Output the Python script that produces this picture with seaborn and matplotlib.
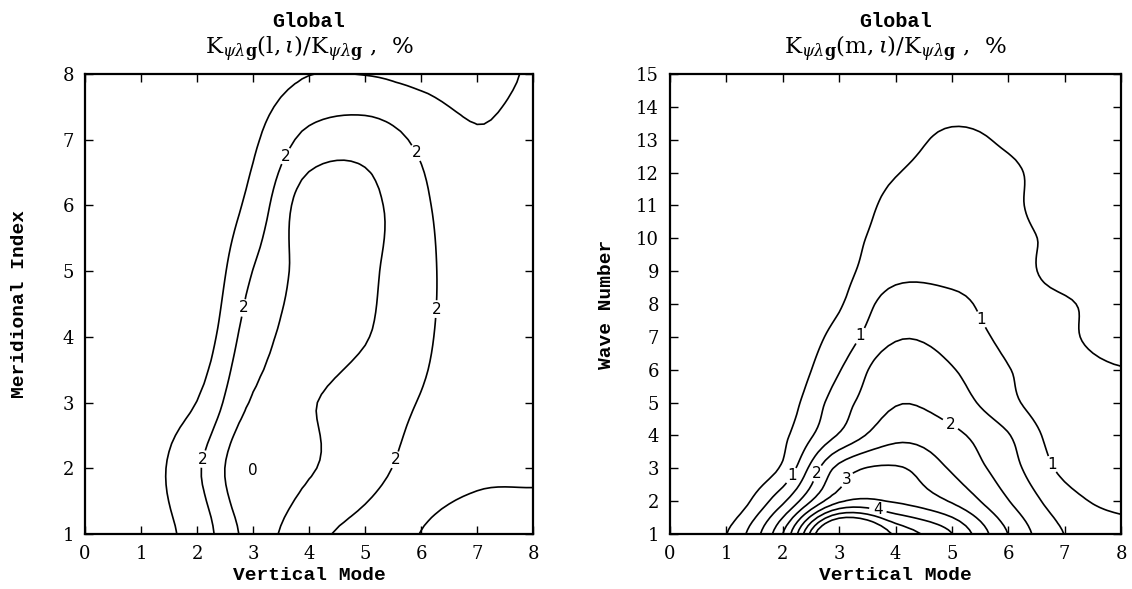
import numpy as np
import matplotlib
matplotlib.use("Agg")
import matplotlib.pyplot as plt
import seaborn as sns

# ---- axes coordinates -------------------------------------------------------
vertical_mode = [0, 1, 2, 3, 4, 5, 6, 7, 8]
meridional_index = [1, 2, 3, 4, 5, 6, 7, 8]
wave_number = list(range(1, 16))

# ---- K(l, iota)/K, %  (rows: meridional index 1..8, cols: vertical mode 0..8)
mer_1 = [0.10, 0.55, 1.40, 3.30, 2.25, 1.70, 0.98, 0.60, 0.60]
mer_2 = [0.10, 0.50, 1.85, 3.90, 3.10, 2.40, 1.60, 1.20, 1.15]
mer_3 = [0.05, 0.40, 1.02, 3.10, 3.05, 2.55, 1.95, 1.40, 1.30]
mer_4 = [0.03, 0.15, 0.33, 2.56, 3.29, 3.05, 2.20, 1.40, 1.30]
mer_5 = [0.02, 0.02, 0.05, 2.02, 3.33, 3.175, 2.30, 1.30, 1.25]
mer_6 = [0.00, 0.02, 0.10, 1.33, 3.55, 3.30, 2.20, 1.20, 1.15]
mer_7 = [0.00, 0.00, 0.00, 0.85, 2.30, 2.60, 1.80, 1.10, 1.40]
mer_8 = [0.00, 0.00, 0.00, 0.50, 0.98, 0.98, 0.80, 0.60, 1.10]

# ---- K(m, iota)/K, %  (rows: wave number 1..15, cols: vertical mode 0..8)
wn_1 = [0.02, 0.49, 2.50, 6.35, 4.90, 4.02, 2.49, 1.49, 1.20]
wn_2 = [0.02, 0.06, 1.40, 3.42, 3.45, 2.95, 2.02, 1.20, 0.85]
wn_3 = [0.02, 0.02, 0.585, 2.66, 3.05, 2.44, 1.71, 0.875, 0.60]
wn_4 = [0.02, 0.02, 0.40, 1.55, 2.35, 2.12, 1.53, 0.70, 0.60]
wn_5 = [0.02, 0.02, 0.235, 1.255, 1.97, 1.75, 1.13, 0.61, 0.55]
wn_6 = [0.02, 0.02, 0.11, 0.97, 1.85, 1.53, 1.02, 0.70, 0.52]
wn_7 = [0.02, 0.02, 0.05, 0.69, 1.45, 1.30, 0.87, 0.60, 0.25]
wn_8 = [0.02, 0.02, 0.02, 0.45, 1.24, 1.15, 0.72, 0.55, 0.30]
wn_9 = [0.02, 0.02, 0.02, 0.35, 0.84, 0.82, 0.66, 0.35, 0.20]
wn_10 = [0.02, 0.02, 0.02, 0.30, 0.70, 0.75, 0.60, 0.40, 0.20]
wn_11 = [0.02, 0.02, 0.02, 0.20, 0.62, 0.70, 0.57, 0.30, 0.15]
wn_12 = [0.02, 0.02, 0.02, 0.15, 0.48, 0.64, 0.56, 0.30, 0.15]
wn_13 = [0.02, 0.02, 0.02, 0.10, 0.35, 0.56, 0.45, 0.25, 0.10]
wn_14 = [0.02, 0.02, 0.02, 0.10, 0.30, 0.40, 0.35, 0.20, 0.10]
wn_15 = [0.02, 0.02, 0.02, 0.05, 0.25, 0.30, 0.25, 0.15, 0.10]

left_levels = [1, 2, 3]
left_label_levels = [2]
right_levels = [0.5, 1.0, 1.5, 2.0, 2.5, 3.0, 3.5, 4.0, 4.5, 5.0]
right_label_levels = [1, 2, 3, 4]

# label anchor points along the contours (vertical mode, index)
left_label_pts = [(3.56, 6.76), (5.83, 6.76), (2.83, 4.44), (6.32, 4.42),
                  (2.11, 2.14), (5.50, 2.14)]
right_label_pts = [(2.13, 2.80), (3.41, 7.00), (5.57, 7.57), (6.79, 3.14),
                   (2.67, 2.80), (4.96, 4.30), (3.24, 2.50), (3.68, 1.67)]

sns.set_theme(style="ticks")
plt.rcParams["font.family"] = ["DejaVu Serif"]
plt.rcParams["mathtext.fontset"] = "dejavuserif"
plt.rcParams["text.color"] = "black"
plt.rcParams["axes.labelcolor"] = "black"
plt.rcParams["xtick.color"] = "black"
plt.rcParams["ytick.color"] = "black"

grid_left = np.array([mer_1, mer_2, mer_3, mer_4, mer_5, mer_6, mer_7, mer_8])
grid_right = np.array([wn_1, wn_2, wn_3, wn_4, wn_5, wn_6, wn_7, wn_8, wn_9,
                       wn_10, wn_11, wn_12, wn_13, wn_14, wn_15])


def _catmull_rom(z, axis, factor):
    """Cubic (Catmull-Rom) resampling along one axis; passes through nodes."""
    z = np.moveaxis(np.asarray(z, float), axis, 0)
    n = z.shape[0]
    t = np.linspace(0, n - 1, (n - 1) * factor + 1)
    i = np.clip(np.floor(t).astype(int), 0, n - 2)
    f = (t - i)[:, None]
    p0 = z[np.clip(i - 1, 0, n - 1)]
    p1 = z[i]
    p2 = z[i + 1]
    p3 = z[np.clip(i + 2, 0, n - 1)]
    out = 0.5 * (2 * p1 + (-p0 + p2) * f
                 + (2 * p0 - 5 * p1 + 4 * p2 - p3) * f ** 2
                 + (-p0 + 3 * p1 - 3 * p2 + p3) * f ** 3)
    return np.moveaxis(out, 0, axis)


def smooth_field(x, y, z, factor=8):
    zs = _catmull_rom(_catmull_rom(z, 1, factor), 0, factor)
    xs = np.linspace(x[0], x[-1], (len(x) - 1) * factor + 1)
    ys = np.linspace(y[0], y[-1], (len(y) - 1) * factor + 1)
    return xs, ys, zs


fig = plt.figure(figsize=(11.32, 5.89), dpi=100)
ax_l = fig.add_axes([0.0751, 0.0934, 0.3958, 0.781])
ax_r = fig.add_axes([0.5919, 0.0934, 0.3984, 0.781])

label_font = dict(family="Liberation Mono", size=14, weight="bold",
                  color="black")
title_font = dict(family="Liberation Mono", size=14.5, weight="bold",
                  color="black")


def draw_contours(ax, x, y, z, levels, label_levels, label_pts):
    xs, ys, zs = smooth_field(x, y, z)
    plain = [lv for lv in levels if lv not in label_levels]
    if plain:
        ax.contour(xs, ys, zs, levels=plain, colors="black", linewidths=1.2)
    cs = ax.contour(xs, ys, zs, levels=label_levels, colors="black",
                    linewidths=1.2)
    labels = ax.clabel(cs, manual=label_pts, inline=True,
                       fmt=lambda v: f"{v:g}", fontsize=11,
                       inline_spacing=4)
    for t in labels:
        t.set_rotation(0)
        t.set_family("DejaVu Sans")
        t.set_color("black")


def style_axes(ax, ymax, ylabel, label_x):
    ax.set_xlim(0, 8)
    ax.set_ylim(1, ymax)
    ax.set_xticks(vertical_mode)
    ax.set_yticks(range(1, ymax + 1))
    ax.tick_params(direction="in", top=True, right=True, length=6, width=1,
                   labelsize=13, pad=8, colors="black")
    for sp in ax.spines.values():
        sp.set_linewidth(1.6)
        sp.set_color("black")
    ax.set_xlabel("Vertical Mode", fontdict=label_font, labelpad=3)
    ax.set_ylabel(ylabel, fontdict=label_font)
    ax.yaxis.set_label_coords(label_x, 0.5)
    ax.set_facecolor("white")


def add_title(ax, pair):
    ax.text(0.5, 1.115, "Global", transform=ax.transAxes, ha="center",
            va="center", fontdict=title_font)
    ax.text(0.5, 1.055,
            r"$\mathrm{K}_{\psi\lambda\mathbf{g}}(\mathrm{" + pair
            + r"},\iota)/\mathrm{K}_{\psi\lambda\mathbf{g}}$ ,  %",
            transform=ax.transAxes, ha="center", va="center", fontsize=16.5,
            color="black")


# left panel
draw_contours(ax_l, vertical_mode, meridional_index, grid_left,
              left_levels, left_label_levels, left_label_pts)
ax_l.text(3.0, 1.97, "0", ha="center", va="center", fontsize=11,
          family="DejaVu Sans", color="black")
style_axes(ax_l, 8, "Meridional Index", -0.127)
add_title(ax_l, "l")

# right panel
draw_contours(ax_r, vertical_mode, wave_number, grid_right,
              right_levels, right_label_levels, right_label_pts)
style_axes(ax_r, 15, "Wave Number", -0.122)
add_title(ax_r, "m")

fig.patch.set_facecolor("white")
fig.savefig("out.png", dpi=100, facecolor="white")
